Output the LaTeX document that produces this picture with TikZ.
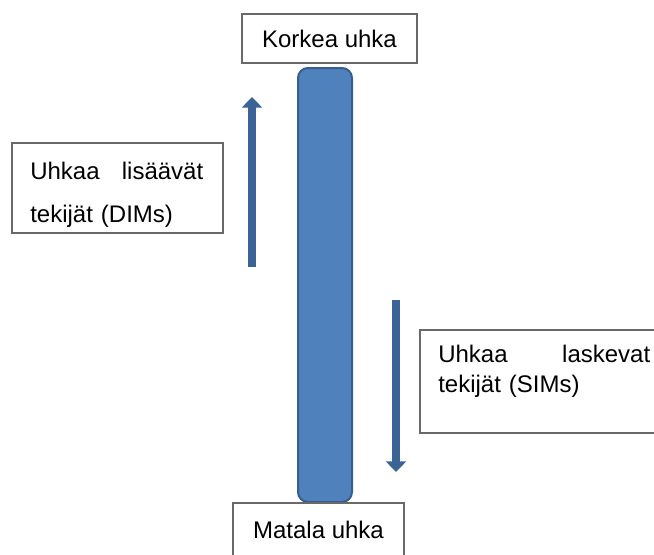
\documentclass[tikz,border=0pt]{standalone}
\usepackage{fontspec}
\setmainfont{Liberation Sans}
\usetikzlibrary{arrows.meta}
\definecolor{BarBlue}{RGB}{79,129,189}
\definecolor{BarEdge}{RGB}{56,93,138}
\definecolor{FlowBlue}{RGB}{60,99,150}
\definecolor{BoxEdge}{RGB}{105,105,105}

\begin{document}
\begin{tikzpicture}[x=0.75pt,y=-0.75pt,
  box/.style={draw=BoxEdge,line width=1.2pt,fill=white,inner sep=0pt,font=\fontsize{18}{22}\selectfont},
  boxtext/.style={inner sep=0pt,align=left,anchor=north west},
  flow/.style={draw=FlowBlue,line width=6pt,-{Triangle[width=15pt,length=8pt]}}]
\useasboundingbox (0,0) rectangle (654,554);
% threat scale
\node[draw=BarEdge,line width=1.5pt,fill=BarBlue,rounded corners=7.5pt,minimum width=40.5pt,minimum height=325.5pt] (bar) at (325,285) {};
\node[box,minimum width=131.25pt,minimum height=36.75pt] (high) at (329.5,38.5) {Korkea uhka};
\node[box,minimum width=128.25pt,minimum height=39.75pt] (low) at (318.5,529.5) {Matala uhka};
% factor boxes
\node[box,minimum width=158.25pt,minimum height=67.5pt] (dimbox) at (117.5,188) {};
\node[boxtext,text width=129.75pt,font=\fontsize{18}{32.25}\selectfont] (dimtext) at (30,161.5) {Uhkaa\hfill lisäävät\\tekijät (DIMs)};
\node[box,minimum width=186pt,minimum height=77.25pt] (simbox) at (544,381.5) {};
\node[boxtext,text width=159pt,font=\fontsize{18}{22.5}\selectfont] (simtext) at (438,345) {Uhkaa\hfill laskevat\\tekijät (SIMs)};
% arrows
\coordinate (upfrom) at (252,267);
\coordinate (upto) at (252,97);
\coordinate (downfrom) at (396,300);
\coordinate (downto) at (396,472);
\draw[flow] (upfrom) -- (upto);
\draw[flow] (downfrom) -- (downto);
\end{tikzpicture}
\end{document}
